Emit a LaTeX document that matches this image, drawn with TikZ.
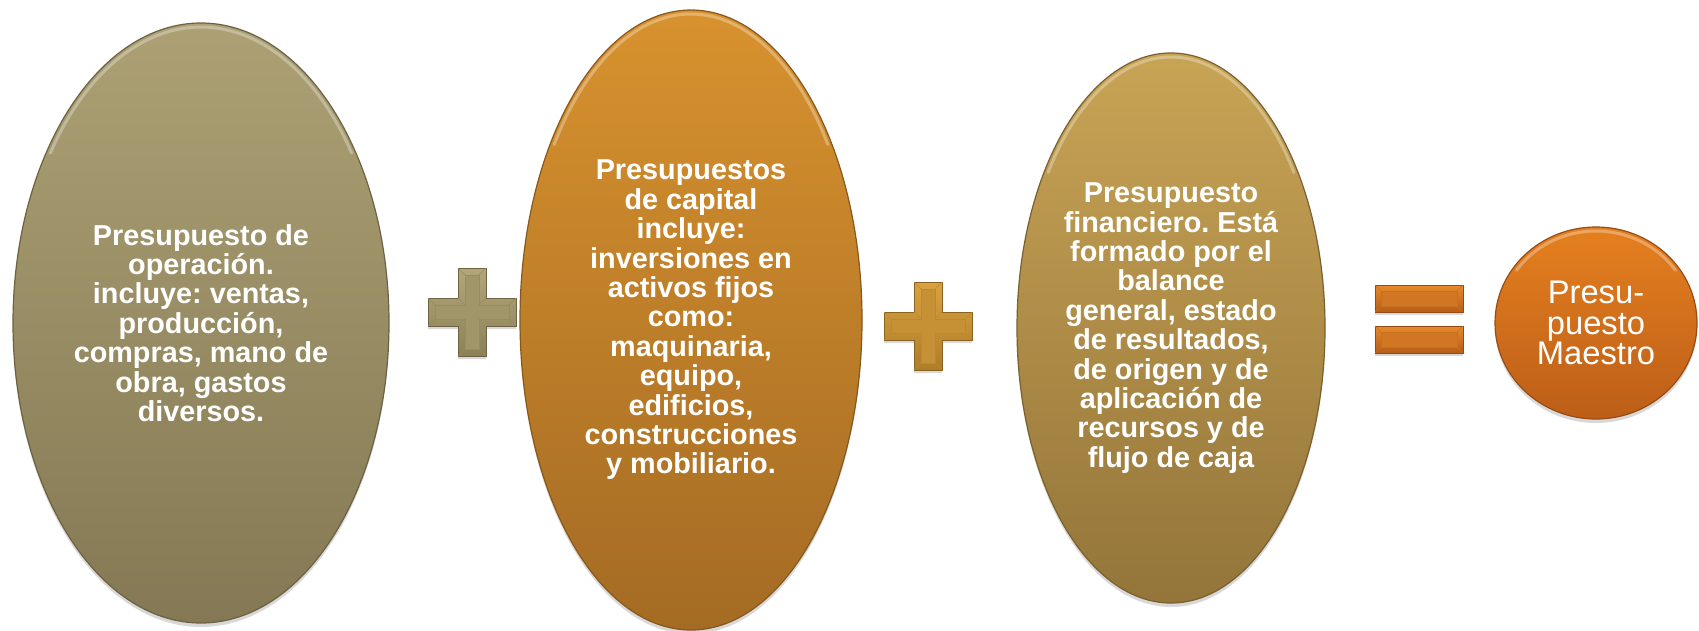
\documentclass[tikz,border=0pt]{standalone}
\usepackage{fontspec}
\setmainfont{Liberation Sans}
\frenchspacing
\usetikzlibrary{shapes.geometric,shadows}

\definecolor{opATop}{HTML}{ACA074}
\definecolor{opABot}{HTML}{857955}
\definecolor{opAEdge}{HTML}{6C6242}
\definecolor{opBTop}{HTML}{D8922E}
\definecolor{opBBot}{HTML}{A46B24}
\definecolor{opBEdge}{HTML}{87581D}
\definecolor{opCTop}{HTML}{C8A455}
\definecolor{opCBot}{HTML}{94753A}
\definecolor{opCEdge}{HTML}{7A602F}
\definecolor{masterTop}{HTML}{E5801F}
\definecolor{masterBot}{HTML}{BC5E18}
\definecolor{masterEdge}{HTML}{984C14}
\definecolor{plusATop}{HTML}{B3A67A}
\definecolor{plusABot}{HTML}{8C8057}
\definecolor{plusAEdge}{HTML}{6E6444}
\definecolor{plusBTop}{HTML}{DAA240}
\definecolor{plusBBot}{HTML}{AE7D28}
\definecolor{plusBEdge}{HTML}{8A6320}
\definecolor{eqTop}{HTML}{E8892A}
\definecolor{eqBot}{HTML}{B65E19}
\definecolor{eqEdge}{HTML}{934A13}

\tikzset{
  oval/.style={ellipse, inner sep=0pt, draw=#1Edge, line width=1.2pt,
    top color=#1Top, bottom color=#1Bot, text=white, align=center,
    drop shadow={opacity=0.3, shadow xshift=0pt, shadow yshift=-4pt}},
  ovaltext/.style={font=\fontsize{28.8}{29.4}\selectfont\bfseries},
  rim/.style={white, opacity=0.3, line width=3pt, line cap=round},
  opface/.style={draw=#1Edge, line width=0.8pt, top color=#1Top, bottom color=#1Bot,
    drop shadow={opacity=0.3, shadow xshift=0pt, shadow yshift=-3pt}},
  bevel/.style={fill=#1Top!55!#1Bot, draw=#1Edge!40!#1Top, line width=0.4pt}
}

\begin{document}
\begin{tikzpicture}[x=1pt,y=-1pt]

\useasboundingbox (0,0) rectangle (1699,630);
\fill[white] (0,0) rectangle (1699,630);

% the three budgets
\node[oval=opA, ovaltext, minimum width=376pt, minimum height=600pt] (operacion) at (201,323)
  {Presupuesto de\\operación.\\incluye: ventas,\\producción,\\compras, mano de\\obra, gastos\\diversos.};
\node[oval=opB, ovaltext, minimum width=342pt, minimum height=620pt] (capital) at (691,320)
  {Presupuestos\\de capital\\incluye:\\inversiones en\\activos fijos\\como:\\maquinaria,\\equipo,\\edificios,\\construcciones\\y mobiliario.};
\node[oval=opC, ovaltext, minimum width=308pt, minimum height=550pt] (financiero) at (1171,328)
  {Presupuesto\\financiero. Está\\formado por el\\balance\\general, estado\\de resultados,\\de origen y de\\aplicación de\\recursos y de\\flujo de caja};

% result
\node[oval=master, font=\fontsize{32.7}{30.5}\selectfont, minimum width=202pt, minimum height=192pt] (maestro) at (1596,323)
  {Presu-\\puesto\\Maestro};

% light rims at the top
\foreach \n/\rx/\ry in {operacion/184/296, capital/167/306, financiero/150/271, maestro/97/92}
  \draw[rim] (\n.center) ++(215:{\rx} and {\ry}) arc[start angle=215, end angle=325, x radius=\rx, y radius=\ry];

% operators
\coordinate (plusA) at (472,312);
\coordinate (plusB) at (928,326);
\coordinate (equal) at (1419,319);

\foreach \p in {plusA,plusB}{
  \begin{scope}[shift={(\p)}]
    \path[opface=\p] (-14,-44) -- (14,-44) -- (14,-14) -- (44,-14) -- (44,14) -- (14,14)
      -- (14,44) -- (-14,44) -- (-14,14) -- (-44,14) -- (-44,-14) -- (-14,-14) -- cycle;
    \path[bevel=\p] (-7,-37) -- (7,-37) -- (7,-7) -- (37,-7) -- (37,7) -- (7,7)
      -- (7,37) -- (-7,37) -- (-7,7) -- (-37,7) -- (-37,-7) -- (-7,-7) -- cycle;
    \draw[\p Edge!40!\p Top, line width=0.4pt]
      (-14,-44) -- (-7,-37) (14,-44) -- (7,-37) (44,-14) -- (37,-7) (44,14) -- (37,7)
      (14,44) -- (7,37) (-14,44) -- (-7,37) (-44,14) -- (-37,7) (-44,-14) -- (-37,-7)
      (14,-14) -- (7,-7) (14,14) -- (7,7) (-14,14) -- (-7,7) (-14,-14) -- (-7,-7);
  \end{scope}
}

\begin{scope}[shift={(equal)}]
  \foreach \dy in {-20.5,20.5}{
    \path[opface=eq] (-44,\dy-13.5) rectangle (44,\dy+13.5);
    \path[bevel=eq] (-38,\dy-7.5) rectangle (38,\dy+7.5);
    \draw[eqEdge!40!eqTop, line width=0.4pt] (-44,\dy-13.5) -- (-38,\dy-7.5) (44,\dy-13.5) -- (38,\dy-7.5)
      (-44,\dy+13.5) -- (-38,\dy+7.5) (44,\dy+13.5) -- (38,\dy+7.5);
  }
\end{scope}

\end{tikzpicture}
\end{document}
